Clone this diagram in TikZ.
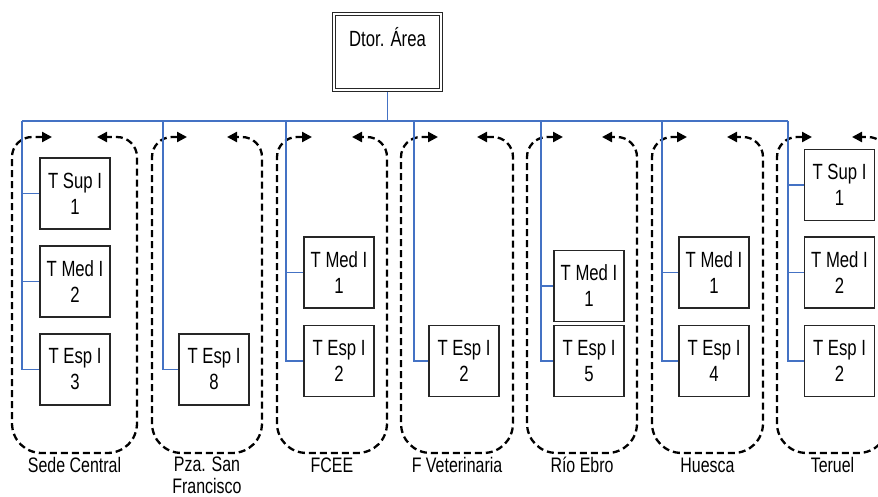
\documentclass[tikz,border=0pt]{standalone}
\usepackage{fontspec}
\setmainfont{Liberation Sans}[FakeStretch=0.76]
\usetikzlibrary{arrows.meta}
\definecolor{treeblue}{HTML}{4472C4}
\tikzset{
 tree/.style={draw=treeblue, line width=1.3pt},
 posbox/.style={draw=black!85, line width=1.4pt, fill=white, minimum width=70pt, minimum height=71pt, inner sep=0pt, align=center, font=\fontsize{22}{26}\selectfont},
 dtorbox/.style={draw=black!85, double, double distance=2.5pt, line width=0.9pt, minimum width=106.7pt, minimum height=75.7pt, inner sep=0pt, outer sep=2.2pt, font=\fontsize{22}{26}\selectfont, text height=15.5pt, text depth=26pt},
 grplabel/.style={anchor=base, align=center, inner sep=0pt, font=\fontsize{21}{22}\selectfont},
 grpline/.style={draw=black, line width=2.3pt, dash pattern=on 7pt off 4pt, {Triangle[length=10pt,width=10pt]}-{Triangle[length=10pt,width=10pt]}},
}
\newcommand\dgrp[4]{\draw[grpline] (#3,137) -- (#1+20,137) .. controls (#1+9,137) and (#1,146) .. (#1,157) -- (#1,423) .. controls (#1,440) and (#1+13,453) .. (#1+30,453) -- (#2-30,453) .. controls (#2-13,453) and (#2,440) .. (#2,423) -- (#2,157) .. controls (#2,146) and (#2-9,137) .. (#2-20,137) -- (#4,137);}
\begin{document}
\begin{tikzpicture}[x=1pt,y=-1pt]
\useasboundingbox (0,0) rectangle (878,496);
\clip (0,0) rectangle (878,496);
% dashed groups
\dgrp{12}{137}{52}{97}
\dgrp{152}{262}{187}{227}
\dgrp{277}{387}{312}{352}
\dgrp{401}{513}{438}{477}
\dgrp{527}{637}{563}{602}
\dgrp{652}{763}{687}{727}
\dgrp{777}{888}{812}{852}
% top box
\node[dtorbox] (dtor) at (387.5,52) {Dtor. Área};
% position boxes
\node[posbox] (s1) at (75,193.5) {T Sup I\\1};
\node[posbox] (m1) at (75,281.5) {T Med I\\2};
\node[posbox] (e1) at (75,369.5) {T Esp I\\3};
\node[posbox] (e2) at (214,369.5) {T Esp I\\8};
\node[posbox] (m3) at (339,272.5) {T Med I\\1};
\node[posbox] (e3) at (339,361) {T Esp I\\2};
\node[posbox] (e4) at (464,361) {T Esp I\\2};
\node[posbox] (m5) at (589,286) {T Med I\\1};
\node[posbox] (e5) at (589,361) {T Esp I\\5};
\node[posbox] (m6) at (714,272.5) {T Med I\\1};
\node[posbox] (e6) at (714,361) {T Esp I\\4};
\node[posbox] (s7) at (839.5,185) {T Sup I\\1};
\node[posbox] (m7) at (839.5,272.5) {T Med I\\2};
\node[posbox] (e7) at (839.5,361) {T Esp I\\2};
% tree connectors
\coordinate (c1) at (22,121);
\coordinate (c2) at (163,121);
\coordinate (c3) at (286,121);
\coordinate (c4) at (414,121);
\coordinate (c5) at (541,121);
\coordinate (c6) at (662,121);
\coordinate (c7) at (788,121);
\draw[tree] (dtor.south) -- (dtor.south |- c1);
\draw[tree] (c1) -- (c7);
\draw[tree] (c1) |- (s1.west);
\draw[tree] (c1) |- (m1.west);
\draw[tree] (c1) |- (e1.west);
\draw[tree] (c2) |- (e2.west);
\draw[tree] (c3) |- (m3.west);
\draw[tree] (c3) |- (e3.west);
\draw[tree] (c4) |- (e4.west);
\draw[tree] (c5) |- (m5.west);
\draw[tree] (c5) |- (e5.west);
\draw[tree] (c6) |- (m6.west);
\draw[tree] (c6) |- (e6.west);
\draw[tree] (c7) |- (s7.west);
\draw[tree] (c7) |- (m7.west);
\draw[tree] (c7) |- (e7.west);
% labels
\node[grplabel] (l1) at (74.5,472) {Sede Central};
\node[grplabel] (l2) at (207,493) {Pza. San\\Francisco};
\node[grplabel] (l3) at (332,472) {FCEE};
\node[grplabel] (l4) at (457,472) {F Veterinaria};
\node[grplabel] (l5) at (582,472) {Río Ebro};
\node[grplabel] (l6) at (707.5,472) {Huesca};
\node[grplabel] (l7) at (832.5,472) {Teruel};
\end{tikzpicture}
\end{document}
